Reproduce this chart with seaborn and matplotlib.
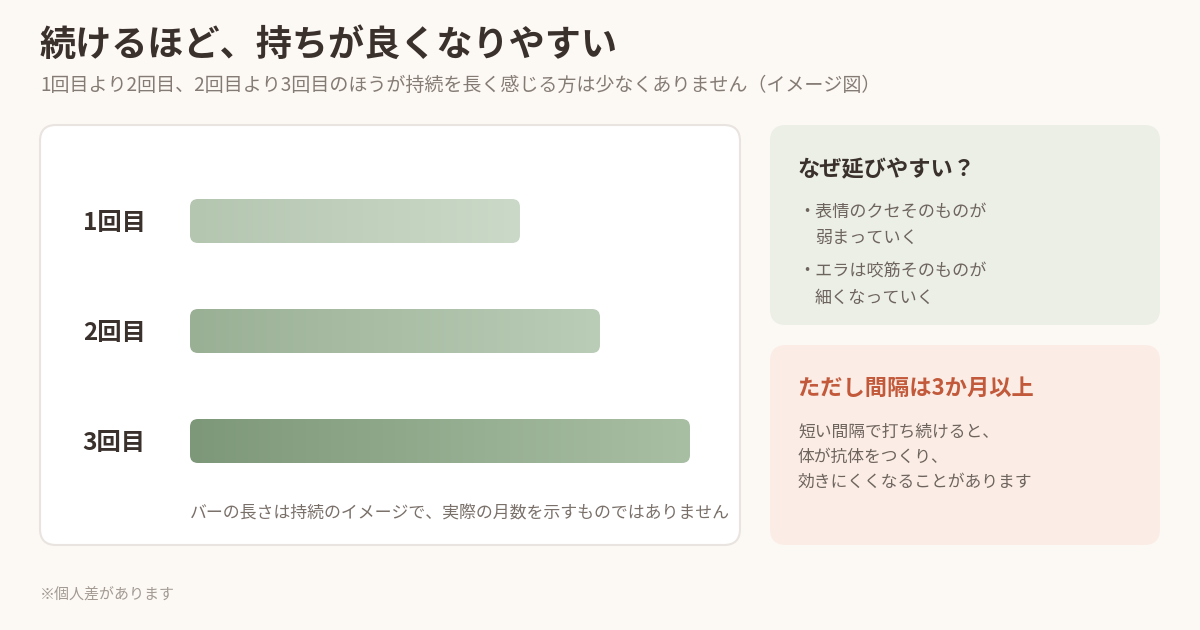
import numpy as np
import pandas as pd
import matplotlib
matplotlib.use("Agg")
import matplotlib.pyplot as plt
from matplotlib.patches import FancyBboxPatch
from matplotlib.colors import LinearSegmentedColormap
import seaborn as sns

# ---- data ----
rounds = ["1回目", "2回目", "3回目"]
duration_image = [66, 82, 100]  # relative bar length (image only)
bar_left_colors = ["#b4c5b0", "#9ab095", "#7d9878"]
bar_right_colors = ["#cbdac8", "#bacdb7", "#a9bfa4"]

title = "続けるほど、持ちが良くなりやすい"
subtitle = "1回目より2回目、2回目より3回目のほうが持続を長く感じる方は少なくありません（イメージ図）"
bar_note = "バーの長さは持続のイメージで、実際の月数を示すものではありません"
footer = "※個人差があります"
why_title = "なぜ延びやすい？"
why_lines = [("・表情のクセそのものが", "弱まっていく"), ("・エラは咬筋そのものが", "細くなっていく")]
caution_title = "ただし間隔は3か月以上"
caution_lines = ["短い間隔で打ち続けると、", "体が抗体をつくり、", "効きにくくなることがあります"]

sns.set_theme(style="white")
plt.rcParams["font.family"] = ["Noto Sans CJK JP", "DejaVu Sans"]

BG = "#fcf8f3"
DARK = "#3a302c"
MID = "#857b75"
BODY = "#6e645e"
ORANGE = "#c2593a"

W, H = 1200, 630
fig = plt.figure(figsize=(12, 6.3), dpi=100, facecolor=BG)

# background axes in pixel coordinates
bg = fig.add_axes([0, 0, 1, 1], zorder=0)
bg.set_xlim(0, W)
bg.set_ylim(H, 0)
bg.axis("off")
bg.set_facecolor(BG)

def card(x0, y0, x1, y1, fc, ec="none", lw=0):
    p = FancyBboxPatch((x0, y0), x1 - x0, y1 - y0,
                       boxstyle="round,pad=0,rounding_size=16",
                       fc=fc, ec=ec, lw=lw)
    bg.add_patch(p)

card(40, 125, 740, 545, "#ffffff", ec="#e9e4df", lw=1.5)
card(770, 125, 1160, 325, "#ebefe6")
card(770, 345, 1160, 545, "#fbede6")

bg.text(40, 45, title, fontsize=26, fontweight="bold", color=DARK, va="center", ha="left")
bg.text(40, 85, subtitle, fontsize=13.7, color=MID, va="center", ha="left")
bg.text(190, 513, bar_note, fontsize=12.2, color="#7a706a", va="center", ha="left")
bg.text(40, 594, footer, fontsize=10.8, color="#a29a93", va="center", ha="left")

bg.text(798, 170, why_title, fontsize=16, fontweight="bold", color=DARK, va="center", ha="left")
ys = [(212, 238), (272, 298)]
for (l1, l2), (y1, y2) in zip(why_lines, ys):
    bg.text(798, y1, l1, fontsize=12.3, color=BODY, va="center", ha="left")
    bg.text(815, y2, l2, fontsize=12.3, color=BODY, va="center", ha="left")

bg.text(798, 388, caution_title, fontsize=16, fontweight="bold", color=ORANGE, va="center", ha="left")
for line, y in zip(caution_lines, [432, 457, 482]):
    bg.text(798, y, line, fontsize=12.1, color=BODY, va="center", ha="left")

# bar axes: x 190..690 px, y 166..496 px
ax = fig.add_axes([190 / W, 1 - 496 / H, 500 / W, 330 / H], zorder=2)
ax.set_facecolor("none")
df = pd.DataFrame({"round": rounds, "value": duration_image})
sns.barplot(data=df, x="value", y="round", orient="h", ax=ax, width=0.4,
            color="#9ab095")
xmax = 100
ax.set_xlim(0, xmax)
ax.set_ylim(2.5, -0.5)

px_per_x = 500 / xmax
px_per_y = 330 / 3
for i, patch in enumerate(list(ax.patches)):
    x0, y0 = patch.get_x(), patch.get_y()
    w, h = patch.get_width(), patch.get_height()
    patch.set_visible(False)
    rr = 8 / px_per_x
    rp = FancyBboxPatch((x0, y0), w, h,
                        boxstyle=f"round,pad=0,rounding_size={rr}",
                        mutation_aspect=px_per_x / px_per_y,
                        fc="none", ec="none", transform=ax.transData)
    ax.add_patch(rp)
    cmap = LinearSegmentedColormap.from_list(f"g{i}", [bar_left_colors[i], bar_right_colors[i]])
    grad = np.linspace(0, 1, 256).reshape(1, -1)
    im = ax.imshow(grad, cmap=cmap, aspect="auto", extent=(x0, x0 + w, y0 + h, y0),
                   interpolation="bilinear", zorder=3)
    im.set_clip_path(rp)

ax.set_xlim(0, xmax)
ax.set_ylim(2.5, -0.5)
ax.set_xlabel("")
ax.set_ylabel("")
ax.set_xticks([])
ax.tick_params(axis="y", length=0, pad=32)
for lab in ax.get_yticklabels():
    lab.set_fontsize(17.5)
    lab.set_fontweight("bold")
    lab.set_color(DARK)
for s in ax.spines.values():
    s.set_visible(False)

fig.savefig("out.png", dpi=100, facecolor=BG)
